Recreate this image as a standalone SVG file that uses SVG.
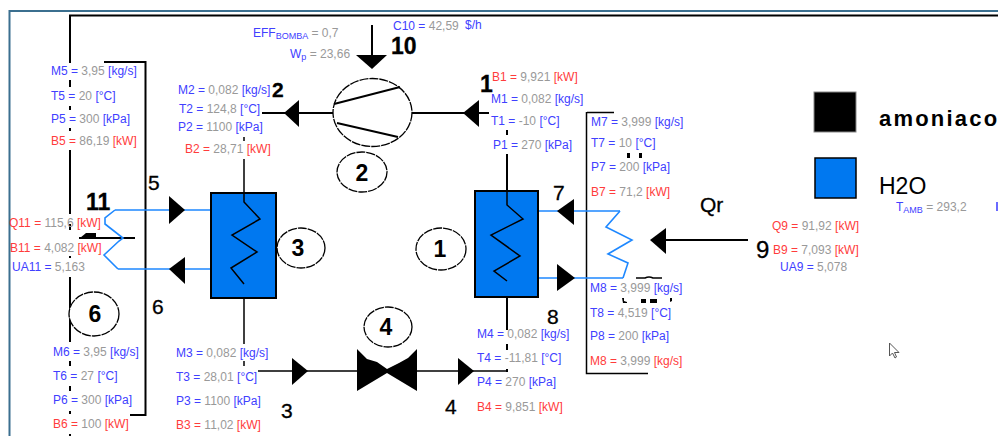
<svg xmlns="http://www.w3.org/2000/svg" width="998" height="436" viewBox="0 0 998 436">
<style>
text{font-family:"Liberation Sans",Arial,sans-serif;font-size:12px;fill:#999}
.b{fill:#4040ff}.r{fill:#ff3c3c}
.n{fill:#000;font-size:21px;stroke:#000;stroke-width:.3}
.c{fill:#000;font-size:23px;font-weight:bold;text-anchor:middle}
.sub{font-size:9px}
.k{fill:none;stroke:#000;stroke-width:2}
.t{fill:none;stroke:#000;stroke-width:1.5}
.w{fill:none;stroke:#1e88ff;stroke-width:1.6}
.hx{fill:#0078f0;stroke:#000;stroke-width:2}
.ring{fill:#fff;stroke:#000;stroke-width:1.3;stroke-dasharray:9 1}
</style>
<g id="frame"><path d="M998 11H9.5V436" fill="none" stroke="#3b6f8f" stroke-width="2"/></g>
<g id="connectors">
<path class="k" d="M998 15.500H70V63M70 80V87M70 106V110M70 128V131M70 150V214M70 224V230M70 256V258M70 277V342M70 361V366M70 386V391M70 411V414M70 434V436"/>
<path class="k" d="M104 62H145.500V415H130"/>
<path class="t" d="M587 112.500H614M586.500 112V373.500H648"/>
<path class="k" d="M262 113H333M412 113H489"/>
<path class="k" d="M372 25V56"/>
<path class="t" d="M244 137V141M244 159V193"/>
<path class="t" d="M244 284V344M244 361V366M258 371H357"/>
<path class="k" d="M507 130V135M507 154V205"/>
<path class="k" d="M507 281V330M507 344V350M507 369V372"/>
<path class="t" d="M417 371H507"/>
<path class="k" d="M666 240H748"/>
<path class="w" d="M115 210H211M118 269H211"/>
<path class="w" d="M538 211H620M538 278H623"/>
<path class="k" d="M79 238H135"/>
<path d="M80 238L86 233H96V238Z"/>
<g id="arrowheads">
<path d="M284 113L299 100V127Z"/>
<path d="M463 113L479 100V127Z"/>
<path d="M356 55H387L372 69Z"/>
<path d="M308 371L292 358V385Z"/>
<path d="M474 371L458 358V385Z"/>
<path d="M557 211L574 199V225Z"/>
<path d="M575 278L557 264V291Z"/>
<path d="M650 240L666 228V254Z"/>
<path d="M185 210L169 196V224Z"/>
<path d="M169 269L185 257V284Z"/>
</g>
</g>
<g id="condenser-3">
<rect class="hx" x="211" y="193" width="65" height="105"/>
<path class="t" d="M244 193V202L260 219L232 235L257 252L231 268L244 284"/>
</g>
<g id="evaporator-1">
<rect class="hx" x="475" y="191" width="63" height="106"/>
<path class="t" d="M507 191V205L523 219L491 235L520 256L494 271L507 281"/>
</g>
<g id="coil-11"><path class="w" d="M115 210L105 218V224L123 238L119 241L104 255L118 269"/></g>
<g id="coil-9"><path class="w" d="M620 211L606 227L632 240L608 254L628 263L623 278"/></g>
<g id="compressor">
<ellipse cx="372.500" cy="112.500" rx="39.500" ry="34" class="ring"/>
<path class="k" d="M334 104L400 87M337 123L398 137"/>
</g>
<g id="valve"><path d="M357 349L367 359L377 362L387 369L399 363L408 358L417 349V391L387 373L357 391Z"/></g>
<g id="state-circles">
<g id="c2"><ellipse class="ring" cx="362" cy="172" rx="25" ry="20"/><text class="c" x="362" y="181">2</text></g>
<g id="c3"><ellipse class="ring" cx="301" cy="248" rx="24" ry="20"/><text class="c" x="298" y="256">3</text></g>
<g id="c1"><ellipse class="ring" cx="441" cy="249" rx="25" ry="21"/><text class="c" x="440" y="257">1</text></g>
<g id="c4"><ellipse class="ring" cx="388" cy="327" rx="24" ry="20"/><text class="c" x="386" y="335">4</text></g>
<g id="c6"><ellipse class="ring" cx="94" cy="314" rx="25" ry="22"/><text class="c" x="95" y="322">6</text></g>
</g>
<g id="stray-marks">
<path class="t" d="M636 278H645Q649 276 653 278H662"/>
<path d="M622 298h2v3l3 1v1h-4zM641 299h5v4h-5zM650 299h7v4h-7zM670 298h2v3l-2 1zM627 153h3v5h-3zM639 153h3v5h-3z"/>
</g>
<g id="point-numbers">
<text class="n" x="86" y="210" style="font-weight:bold;font-size:23px">11</text>
<text class="n" x="148" y="190">5</text>
<text class="n" x="152" y="314">6</text>
<text class="n" x="272" y="97" style="font-weight:bold">2</text>
<text class="n" x="281" y="418">3</text>
<text class="n" x="445" y="414">4</text>
<text class="n" x="480" y="92" style="font-weight:bold;font-size:23px">1</text>
<text class="n" x="391" y="54" style="font-weight:bold;font-size:23px">10</text>
<text class="n" x="553" y="200">7</text>
<text class="n" x="547" y="324">8</text>
<text class="n" x="756" y="258" style="font-size:24px">9</text>
<text class="n" x="700" y="212">Qr</text>
</g>
<g id="stream-5">
<text x="51" y="75"><tspan class="b">M5 = </tspan>3,95 <tspan class="b">[kg/s]</tspan></text>
<text x="51" y="100"><tspan class="b">T5 = </tspan>20 <tspan class="b">[°C]</tspan></text>
<text x="51" y="123"><tspan class="b">P5 = </tspan>300 <tspan class="b">[kPa]</tspan></text>
<text x="51" y="145"><tspan class="r">B5 = </tspan>86,19 <tspan class="r">[kW]</tspan></text>
</g>
<g id="stream-2">
<text x="178" y="94"><tspan class="b">M2 = </tspan>0,082 <tspan class="b">[kg/s]</tspan></text>
<text x="179" y="113"><tspan class="b">T2 = </tspan>124,8 <tspan class="b">[°C]</tspan></text>
<text x="178" y="131"><tspan class="b">P2 = </tspan>1100 <tspan class="b">[kPa]</tspan></text>
<text x="185" y="153"><tspan class="r">B2 = </tspan>28,71 <tspan class="r">[kW]</tspan></text>
</g>
<g id="pump-data">
<text x="253" y="37"><tspan class="b">EFF</tspan><tspan class="b sub" dy="2">BOMBA</tspan><tspan dy="-2"> = 0,7</tspan></text>
<text x="290" y="58"><tspan class="b">W</tspan><tspan class="b sub" dy="2">p</tspan><tspan dy="-2"> = 23,66</tspan></text>
<text x="393" y="30"><tspan class="b">C10 = </tspan>42,59</text>
<text class="b" x="465" y="29">$/h</text>
</g>
<g id="stream-1">
<text x="492" y="81"><tspan class="r">B1 = </tspan>9,921 <tspan class="r">[kW]</tspan></text>
<text x="491" y="103"><tspan class="b">M1 = </tspan>0,082 <tspan class="b">[kg/s]</tspan></text>
<text x="491" y="125"><tspan class="b">T1 = </tspan>-10 <tspan class="b">[°C]</tspan></text>
<text x="493" y="149"><tspan class="b">P1 = </tspan>270 <tspan class="b">[kPa]</tspan></text>
</g>
<g id="stream-7">
<text x="591" y="126"><tspan class="b">M7 = </tspan>3,999 <tspan class="b">[kg/s]</tspan></text>
<text x="591" y="147"><tspan class="b">T7 = </tspan>10 <tspan class="b">[°C]</tspan></text>
<text x="591" y="171"><tspan class="b">P7 = </tspan>200 <tspan class="b">[kPa]</tspan></text>
<text x="591" y="196"><tspan class="r">B7 = </tspan>71,2 <tspan class="r">[kW]</tspan></text>
</g>
<g id="stream-8">
<text x="590" y="292"><tspan class="b">M8 = </tspan>3,999 <tspan class="b">[kg/s]</tspan></text>
<text x="590" y="317"><tspan class="b">T8 = </tspan>4,519 <tspan class="b">[°C]</tspan></text>
<text x="590" y="340"><tspan class="b">P8 = </tspan>200 <tspan class="b">[kPa]</tspan></text>
<text x="590" y="365"><tspan class="r">M8 = </tspan>3,999 <tspan class="r">[kg/s]</tspan></text>
</g>
<g id="stream-4">
<text x="477" y="338"><tspan class="b">M4 = </tspan>0,082 <tspan class="b">[kg/s]</tspan></text>
<text x="477" y="362"><tspan class="b">T4 = </tspan>-11,81 <tspan class="b">[°C]</tspan></text>
<text x="477" y="386"><tspan class="b">P4 = </tspan>270 <tspan class="b">[kPa]</tspan></text>
<text x="477" y="411"><tspan class="r">B4 = </tspan>9,851 <tspan class="r">[kW]</tspan></text>
</g>
<g id="stream-3">
<text x="176" y="357"><tspan class="b">M3 = </tspan>0,082 <tspan class="b">[kg/s]</tspan></text>
<text x="176" y="381"><tspan class="b">T3 = </tspan>28,01 <tspan class="b">[°C]</tspan></text>
<text x="176" y="405"><tspan class="b">P3 = </tspan>1100 <tspan class="b">[kPa]</tspan></text>
<text x="176" y="429"><tspan class="r">B3 = </tspan>11,02 <tspan class="r">[kW]</tspan></text>
</g>
<g id="stream-6">
<text x="53" y="356"><tspan class="b">M6 = </tspan>3,95 <tspan class="b">[kg/s]</tspan></text>
<text x="53" y="380"><tspan class="b">T6 = </tspan>27 <tspan class="b">[°C]</tspan></text>
<text x="53" y="404"><tspan class="b">P6 = </tspan>300 <tspan class="b">[kPa]</tspan></text>
<text x="53" y="428"><tspan class="r">B6 = </tspan>100 <tspan class="r">[kW]</tspan></text>
</g>
<g id="hx-11-data">
<text x="9" y="227"><tspan class="r">Q11 = </tspan>115,6 <tspan class="r">[kW]</tspan></text>
<text x="10" y="252"><tspan class="r">B11 = </tspan>4,082 <tspan class="r">[kW]</tspan></text>
<text x="12" y="271"><tspan class="b">UA11 = </tspan>5,163</text>
</g>
<g id="hx-9-data">
<text x="772" y="230"><tspan class="r">Q9 = </tspan>91,92 <tspan class="r">[kW]</tspan></text>
<text x="773" y="254"><tspan class="r">B9 = </tspan>7,093 <tspan class="r">[kW]</tspan></text>
<text x="780" y="271"><tspan class="b">UA9 = </tspan>5,078</text>
</g>
<g id="legend">
<rect x="814" y="92" width="42" height="40" fill="#000" stroke="#888"/>
<rect x="815" y="158" width="41" height="40" fill="#0078f0" stroke="#000" stroke-width="1.500"/>
<text x="879" y="126" style="fill:#000;font-size:22px;font-weight:bold;letter-spacing:2.200px">amoniaco</text>
<text x="879" y="194" style="fill:#000;font-size:23px">H2O</text>
<text x="896" y="211"><tspan class="b">T</tspan><tspan class="b sub" dy="2">AMB</tspan><tspan dy="-2"> = 293,2</tspan></text>
<rect x="996" y="202" width="2" height="9" fill="#6a6aff"/>
</g>
<g id="cursor"><path d="M889.500 343V356L892.500 353L895 358L896.500 357L894.500 352.500H899Z" fill="#fff" stroke="#555"/></g>
</svg>
